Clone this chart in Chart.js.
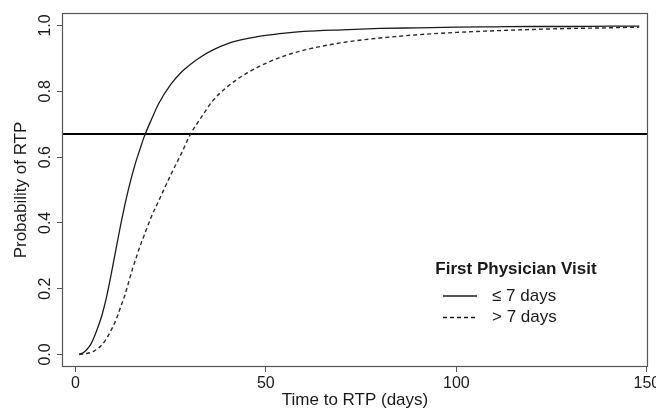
<!DOCTYPE html>
<html><head><meta charset="utf-8">
<script src="https://cdn.jsdelivr.net/npm/chart.js@4/dist/chart.umd.min.js"></script>
<style>html,body{margin:0;padding:0;background:#fff}canvas{display:block}</style>
</head><body>
<canvas id="c" width="656" height="411"></canvas>
<script>
const days      = [1,2,3,4,5,6,7,8,9,10,11,12,13,14,15,16,17,18,20,22,25,28,30,33,36,40,45,50,55,60,70,80,90,100,110,120,130,140,148];
const probEarly = [0.001,0.005,0.015,0.03,0.055,0.085,0.12,0.165,0.22,0.28,0.34,0.40,0.455,0.505,0.55,0.59,0.625,0.66,0.715,0.765,0.82,0.86,0.88,0.905,0.925,0.945,0.96,0.97,0.977,0.982,0.987,0.991,0.993,0.995,0.996,0.997,0.997,0.998,0.998];
const probLate  = [0,0.001,0.003,0.006,0.011,0.019,0.03,0.045,0.065,0.088,0.115,0.148,0.18,0.22,0.26,0.295,0.33,0.36,0.42,0.47,0.545,0.615,0.665,0.72,0.77,0.815,0.855,0.885,0.908,0.925,0.948,0.962,0.972,0.979,0.984,0.988,0.991,0.993,0.995];
const xTicks = [0,50,100,150];
const yTicks = [0,0.2,0.4,0.6,0.8,1.0];
const refLine = 0.67;
const seriesLabels = ['\u2264 7 days','> 7 days'];
const legendTitle = 'First Physician Visit';
const xTitle = 'Time to RTP (days)';
const yTitle = 'Probability of RTP';

const FONT = "'Liberation Sans', Arial, Helvetica, sans-serif";
const INK = '#1a1a1a';
Chart.defaults.font.family = FONT;
Chart.defaults.color = INK;

const dashes = [[], [4,3]];
const widths = [1.3, 1.4];

const framePlugin = {
  id: 'frame',
  beforeDatasetsDraw(chart) {
    const {ctx, chartArea: a, scales: {y}} = chart;
    const py = Math.round(y.getPixelForValue(refLine));
    ctx.save();
    ctx.strokeStyle = '#000';
    ctx.lineWidth = 2;
    ctx.beginPath();
    ctx.moveTo(a.left, py); ctx.lineTo(a.right, py);
    ctx.stroke();
    ctx.restore();
  },
  afterDraw(chart) {
    const {ctx, chartArea: a} = chart;
    ctx.save();
    ctx.strokeStyle = '#555';
    ctx.lineWidth = 1.2;
    ctx.strokeRect(a.left + 0.5, a.top + 0.5, a.right - a.left - 1, a.bottom - a.top - 1);
    // legend
    const cx = a.right - 132;
    const ty = a.bottom - 98;
    ctx.fillStyle = INK;
    ctx.textAlign = 'center';
    ctx.textBaseline = 'middle';
    ctx.font = 'bold 17px ' + FONT;
    ctx.fillText(legendTitle, cx, ty);
    ctx.font = '17px ' + FONT;
    ctx.textAlign = 'left';
    seriesLabels.forEach((lab, i) => {
      const yy = ty + 27 + i * 21.5;
      ctx.strokeStyle = INK;
      ctx.lineWidth = widths[i];
      ctx.setLineDash(dashes[i]);
      ctx.beginPath();
      ctx.moveTo(cx - 73, yy); ctx.lineTo(cx - 39, yy);
      ctx.stroke();
      ctx.setLineDash([]);
      ctx.fillText(lab, cx - 24, yy);
    });
    ctx.restore();
  }
};

new Chart(document.getElementById('c'), {
  type: 'line',
  data: {
    datasets: [
      { label: seriesLabels[0], data: days.map((d,i)=>({x:d,y:probEarly[i]})), borderColor: INK, borderWidth: widths[0], borderDash: dashes[0], pointRadius: 0, fill: false, cubicInterpolationMode: 'monotone' },
      { label: seriesLabels[1], data: days.map((d,i)=>({x:d,y:probLate[i]})), borderColor: '#2a2a2a', borderWidth: widths[1], borderDash: dashes[1], pointRadius: 0, fill: false, cubicInterpolationMode: 'monotone' }
    ]
  },
  options: {
    responsive: false,
    animation: false,
    devicePixelRatio: 1,
    layout: { padding: { top: 13, right: 8, left: 0, bottom: 0 } },
    plugins: { legend: { display: false }, tooltip: { enabled: false } },
    scales: {
      x: {
        type: 'linear', min: -3.5, max: 150.3,
        afterBuildTicks: s => { s.ticks = xTicks.map(v => ({value: v})); },
        afterFit: s => { s.height = 44; s.paddingLeft = 0; s.paddingRight = 0; },
        grid: { drawOnChartArea: false, drawTicks: true, tickLength: 5, color: '#555', lineWidth: 1 },
        border: { display: false },
        ticks: { font: { size: 16 }, color: INK, padding: 2, maxRotation: 0, autoSkip: false },
        title: { display: true, text: xTitle, font: { size: 17 }, color: INK, padding: { top: 0, bottom: 0 } }
      },
      y: {
        type: 'linear', min: -0.038, max: 1.038,
        afterBuildTicks: s => { s.ticks = yTicks.map(v => ({value: v})); },
        afterFit: s => { s.width = 62; s.paddingTop = 0; s.paddingBottom = 0; },
        grid: { drawOnChartArea: false, drawTicks: true, tickLength: 5, color: '#555', lineWidth: 1 },
        border: { display: false },
        ticks: { font: { size: 16 }, color: INK, padding: 0, minRotation: 90, maxRotation: 90, crossAlign: 'center', autoSkip: false, callback: v => Number(v).toFixed(1) },
        title: { display: true, text: yTitle, font: { size: 17 }, color: INK, padding: { top: 11, bottom: 0 } }
      }
    }
  },
  plugins: [framePlugin]
});
</script>
</body></html>
